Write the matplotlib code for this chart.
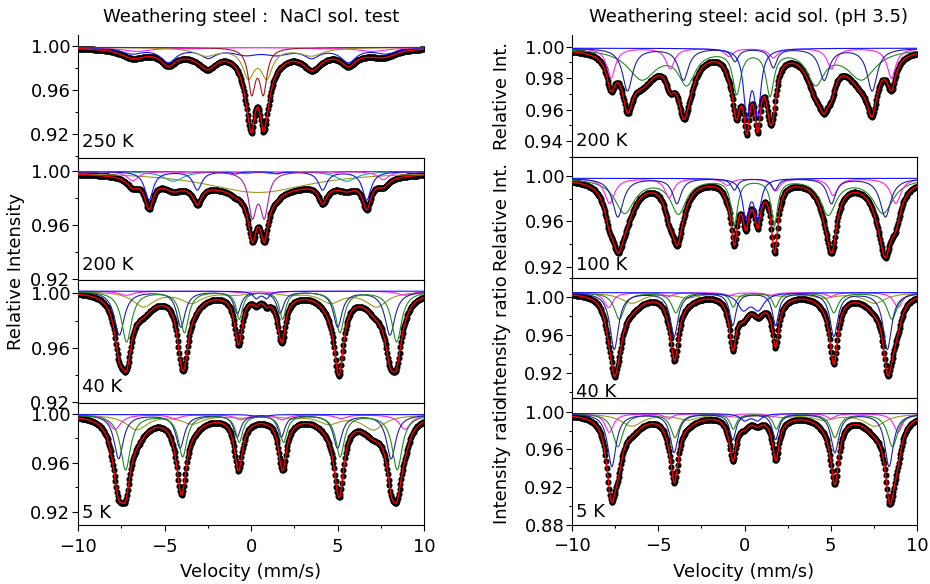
import numpy as np
import matplotlib
matplotlib.use("Agg")
import matplotlib.pyplot as plt
from matplotlib.ticker import MultipleLocator, FormatStrFormatter

plt.rcParams['font.family'] = ['DejaVu Sans']

# ---------------- data ----------------
VEL_MIN, VEL_MAX = -10.0, 10.0
VEL_STEP = 0.045
X_MAJOR = [-10, -5, 0, 5, 10]

LEFT_TITLE = "Weathering steel :  NaCl sol. test"
RIGHT_TITLE = "Weathering steel: acid sol. (pH 3.5)"
NACL_TEMPS = ["250 K", "200 K", "40 K", "5 K"]
ACID_TEMPS = ["200 K", "100 K", "40 K", "5 K"]
NACL_BASELINE = [0.9985, 0.9995, 1.0015, 0.9995]
ACID_BASELINE = [0.9990, 0.9980, 1.0050, 0.9980]

# sub-spectra: lists of (line position mm/s, depth, FWHM mm/s)
# ---- NaCl 250 K
N250_BLUE = [(-6.9, 0.005, 1.5), (-4.78, 0.0125, 1.1), (-2.47, 0.008, 1.1), (-0.3, 0.0055, 1.8),
             (1.5, 0.0055, 1.8), (3.51, 0.008, 1.1), (5.63, 0.0125, 1.1), (7.8, 0.005, 1.5)]
N250_MAGENTA = [(-6.6, 0.0035, 2.2), (-3.0, 0.0008, 2.0), (3.8, 0.0008, 2.0), (7.0, 0.0035, 2.2)]
N250_OLIVE = [(-2.6, 0.007, 1.6), (-0.15, 0.025, 0.8), (0.91, 0.025, 0.8), (3.5, 0.007, 1.6)]
N250_MAROON = [(0.04, 0.039, 0.5), (0.71, 0.039, 0.5)]
N250_TAN = [(-3.7, 0.0015, 2.0), (4.0, 0.0015, 2.0)]
# ---- NaCl 200 K
N200_BLUE = [(-5.90, 0.021, 0.6), (-3.10, 0.0135, 0.6), (-0.9, 0.0015, 0.5), (1.5, 0.0015, 0.5),
             (4.14, 0.0135, 0.6), (6.69, 0.021, 0.6)]
N200_MAGENTA = [(-6.84, 0.0068, 0.8), (-3.6, 0.0012, 0.8), (-0.3, 0.0015, 0.8), (1.2, 0.0015, 0.8),
                (4.6, 0.0012, 0.8), (7.65, 0.006, 0.8)]
N200_TEAL = [(-4.49, 0.0072, 1.4), (5.53, 0.0072, 1.4)]
N200_OLIVE = [(0.4, 0.0155, 7.5)]
N200_PURPLE = [(0.08, 0.031, 0.55), (0.77, 0.031, 0.55)]
# ---- NaCl 40 K
N40_NAVY = [(-7.61, 0.032, 0.7), (-4.05, 0.026, 0.6), (-0.79, 0.016, 0.5), (1.68, 0.016, 0.5),
            (5.01, 0.026, 0.6), (8.03, 0.032, 0.7)]
N40_GREEN = [(-7.19, 0.037, 0.7), (-3.85, 0.030, 0.6), (-0.67, 0.020, 0.45), (1.83, 0.020, 0.45),
             (5.14, 0.030, 0.6), (8.42, 0.037, 0.7)]
N40_OLIVE = [(-6.22, 0.011, 1.5), (-3.43, 0.008, 1.5), (-0.9, 0.002, 1.5), (2.2, 0.002, 1.5),
             (4.6, 0.008, 1.5), (7.26, 0.011, 1.5)]
N40_MAGENTA = [(-7.2, 0.003, 1.0), (-0.6, 0.001, 1.0), (1.3, 0.001, 1.0), (8.9, 0.003, 1.0)]
N40_BLUE = [(0.3, 0.005, 0.45), (0.9, 0.005, 0.45)]
# ---- NaCl 5 K
N5_NAVY = [(-7.65, 0.036, 0.65), (-4.1, 0.027, 0.6), (-0.8, 0.018, 0.5), (1.75, 0.018, 0.5),
           (5.0, 0.027, 0.6), (8.1, 0.036, 0.65)]
N5_GREEN = [(-7.25, 0.045, 0.7), (-3.95, 0.034, 0.6), (-0.68, 0.022, 0.5), (1.88, 0.022, 0.5),
            (5.15, 0.034, 0.6), (8.45, 0.045, 0.7)]
N5_OLIVE = [(-6.61, 0.012, 1.5), (-3.4, 0.007, 1.5), (-0.5, 0.002, 1.5), (2.3, 0.002, 1.5),
            (4.5, 0.007, 1.5), (7.07, 0.012, 1.5)]
N5_MAGENTA = [(-7.86, 0.012, 0.8), (-4.4, 0.003, 0.8), (-0.6, 0.004, 0.8), (1.8, 0.004, 0.8),
              (5.2, 0.003, 0.8), (8.9, 0.012, 0.8)]
N5_BLUE = [(0.2, 0.001, 0.6), (0.9, 0.001, 0.6)]
# ---- acid 200 K
A200_MAGENTA = [(-7.74, 0.019, 0.6), (-4.31, 0.013, 0.6), (-0.9, 0.005, 0.6), (1.67, 0.006, 0.6),
                (5.04, 0.013, 0.6), (8.52, 0.019, 0.6)]
A200_NAVY = [(-6.78, 0.027, 0.7), (-3.54, 0.020, 0.7), (-0.55, 0.008, 0.5), (1.67, 0.012, 0.5),
             (4.62, 0.020, 0.7), (7.40, 0.027, 0.7)]
A200_GREEN = [(-5.95, 0.019, 2.0), (-3.35, 0.021, 1.2), (-0.45, 0.027, 0.55), (1.48, 0.028, 0.55),
              (4.12, 0.021, 1.2), (6.78, 0.019, 2.0)]
A200_BLUE = [(0.13, 0.040, 0.45), (0.76, 0.040, 0.45)]
# ---- acid 100 K
A100_NAVY = [(-7.34, 0.034, 0.75), (-3.92, 0.022, 0.6), (-0.59, 0.010, 0.45), (1.76, 0.010, 0.45),
             (5.04, 0.022, 0.6), (8.17, 0.034, 0.75)]
A100_GREEN = [(-6.95, 0.030, 1.4), (-3.83, 0.030, 1.1), (-0.59, 0.040, 0.45), (1.73, 0.040, 0.45),
              (4.85, 0.031, 1.1), (8.03, 0.030, 1.4)]
A100_MAGENTA = [(-7.82, 0.022, 0.7), (-4.37, 0.017, 0.6), (-1.0, 0.006, 0.6), (1.80, 0.011, 0.6),
                (5.15, 0.015, 0.6), (8.77, 0.022, 0.7)]
A100_BLUE = [(0.08, 0.034, 0.45), (0.76, 0.034, 0.45)]
# ---- acid 40 K
A40_NAVY = [(-7.55, 0.060, 0.6), (-4.08, 0.046, 0.55), (-0.68, 0.034, 0.45), (1.80, 0.034, 0.45),
            (5.18, 0.046, 0.55), (8.28, 0.060, 0.6)]
A40_GREEN = [(-7.26, 0.028, 0.7), (-3.98, 0.021, 0.6), (-0.65, 0.015, 0.45), (1.80, 0.015, 0.45),
             (5.18, 0.021, 0.6), (8.55, 0.028, 0.7)]
A40_MAGENTA = [(-7.88, 0.016, 0.6), (-4.4, 0.004, 0.6), (-0.9, 0.003, 0.6), (1.5, 0.003, 0.6),
               (5.0, 0.004, 0.6), (8.9, 0.016, 0.6)]
A40_OLIVE = [(-6.53, 0.011, 1.5), (-3.3, 0.005, 1.5), (-0.3, 0.003, 1.5), (2.2, 0.003, 1.5),
             (4.6, 0.005, 1.5), (7.55, 0.011, 1.5)]
A40_BLUE = [(-0.07, 0.0167, 0.8), (0.8, 0.0167, 0.8)]
# ---- acid 5 K
A5_NAVY = [(-7.69, 0.056, 0.6), (-4.08, 0.041, 0.55), (-0.68, 0.027, 0.45), (1.80, 0.027, 0.45),
           (5.24, 0.041, 0.55), (8.38, 0.056, 0.6)]
A5_GREEN = [(-7.34, 0.035, 0.7), (-4.03, 0.025, 0.6), (-0.65, 0.016, 0.45), (1.85, 0.016, 0.45),
            (5.24, 0.025, 0.6), (8.58, 0.035, 0.7)]
A5_MAGENTA = [(-7.84, 0.020, 0.6), (-4.4, 0.005, 0.6), (-0.9, 0.003, 0.6), (1.6, 0.003, 0.6),
              (5.0, 0.005, 0.6), (8.9, 0.020, 0.6)]
A5_OLIVE = [(-6.53, 0.013, 1.5), (-3.3, 0.006, 1.5), (-0.3, 0.003, 1.5), (2.2, 0.003, 1.5),
            (4.6, 0.006, 1.5), (7.55, 0.013, 1.5)]
A5_BLUE = [(0.0, 0.007, 0.6), (0.75, 0.007, 0.6)]

# y ranges and tick steps of each panel
NACL_YLIM = [(0.8986, 1.0097), (0.9195, 1.0094), (0.9195, 1.0097), (0.9091, 1.0090)]
ACID_YLIM = [(0.9298, 1.0074), (0.9105, 1.0168), (0.8932, 1.0210), (0.8800, 1.0146)]
NACL_YSTEP = [0.04, 0.04, 0.04, 0.04]
ACID_YSTEP = [0.02, 0.04, 0.04, 0.04]
ACID_YLABELS = ["Relative Int.", "Relative Int.", "Intensity ratio", "Intensity ratio"]

COLORS = {'blue': '#1010ff', 'navy': '#20209a', 'green': '#1f8a1f', 'olive': '#9a9a20',
          'magenta': '#ff20ff', 'purple': '#a020a0', 'maroon': '#a01818', 'teal': '#20a0a0',
          'tan': '#c8b48c', 'fit': '#ff0000'}

NACL_COMPONENTS = [
    [('tan', N250_TAN), ('magenta', N250_MAGENTA), ('blue', N250_BLUE), ('olive', N250_OLIVE), ('maroon', N250_MAROON)],
    [('olive', N200_OLIVE), ('teal', N200_TEAL), ('magenta', N200_MAGENTA), ('blue', N200_BLUE), ('purple', N200_PURPLE)],
    [('olive', N40_OLIVE), ('magenta', N40_MAGENTA), ('navy', N40_NAVY), ('green', N40_GREEN), ('blue', N40_BLUE)],
    [('olive', N5_OLIVE), ('magenta', N5_MAGENTA), ('navy', N5_NAVY), ('green', N5_GREEN), ('blue', N5_BLUE)],
]
ACID_COMPONENTS = [
    [('green', A200_GREEN), ('magenta', A200_MAGENTA), ('navy', A200_NAVY), ('blue', A200_BLUE)],
    [('green', A100_GREEN), ('magenta', A100_MAGENTA), ('navy', A100_NAVY), ('blue', A100_BLUE)],
    [('olive', A40_OLIVE), ('magenta', A40_MAGENTA), ('green', A40_GREEN), ('navy', A40_NAVY), ('blue', A40_BLUE)],
    [('olive', A5_OLIVE), ('magenta', A5_MAGENTA), ('green', A5_GREEN), ('navy', A5_NAVY), ('blue', A5_BLUE)],
]

# ---------------- figure ----------------
W, H = 930, 584
fig = plt.figure(figsize=(W / 100, H / 100), dpi=100)

LEFT_X = (78, 424)
RIGHT_X = (572, 917)
LEFT_EDGES = [35, 158, 280, 403, 525]
RIGHT_EDGES = [35, 157, 277.5, 398, 524.5]
# temperature label centres (pixels, from top)
LEFT_TEMP_Y = [142, 265, 387, 513]
RIGHT_TEMP_Y = [141, 265, 392, 512]

v = np.arange(VEL_MIN, VEL_MAX + 1e-9, VEL_STEP)
v_fine = np.linspace(VEL_MIN, VEL_MAX, 2001)


def absorption(x, lines):
    out = np.zeros_like(x)
    for pos, depth, fwhm in lines:
        out += depth / (1.0 + (2.0 * (x - pos) / fwhm) ** 2)
    return out


def make_panel(xr, y0, y1, comps, base, ylim, ystep, temp, temp_y, is_top, is_bottom):
    ax = fig.add_axes([xr[0] / W, 1 - y1 / H, (xr[1] - xr[0]) / W, (y1 - y0) / H])
    all_lines = [ln for _, lines in comps for ln in lines]
    # measured points
    ax.plot(v, base - absorption(v, all_lines), 'o', color='black', ms=4.4, mew=0, zorder=2)
    for cname, lines in comps:
        ax.plot(v_fine, base - absorption(v_fine, lines), color=COLORS[cname], lw=0.8, zorder=3)
    ax.plot(v_fine, base - absorption(v_fine, all_lines), color=COLORS['fit'], lw=1.0, zorder=4)
    ax.set_xlim(VEL_MIN, VEL_MAX)
    ax.set_ylim(*ylim)
    ax.set_xticks(X_MAJOR)
    ax.xaxis.set_minor_locator(MultipleLocator(2.5))
    ax.yaxis.set_major_locator(MultipleLocator(ystep))
    ax.yaxis.set_minor_locator(MultipleLocator(ystep / 2))
    ax.yaxis.set_major_formatter(FormatStrFormatter('%.2f'))
    ax.tick_params(which='both', direction='out', top=False, right=False, width=0.8,
                   labelsize=13, pad=1.5)
    ax.tick_params(which='major', length=4)
    ax.tick_params(which='minor', length=2.5)
    ax.tick_params(axis='x', labelbottom=is_bottom, pad=5)
    if is_top:
        ax.spines['top'].set_visible(False)
        ax.spines['right'].set_visible(False)
    for sp in ax.spines.values():
        sp.set_linewidth(0.8)
    fig.text((xr[0] + 4) / W, 1 - temp_y / H, temp, fontsize=13, ha='left', va='center', zorder=5)
    return ax


for i in range(4):
    make_panel(LEFT_X, LEFT_EDGES[i], LEFT_EDGES[i + 1], NACL_COMPONENTS[i], NACL_BASELINE[i],
               NACL_YLIM[i], NACL_YSTEP[i], NACL_TEMPS[i], LEFT_TEMP_Y[i], i == 0, i == 3)
    make_panel(RIGHT_X, RIGHT_EDGES[i], RIGHT_EDGES[i + 1], ACID_COMPONENTS[i], ACID_BASELINE[i],
               ACID_YLIM[i], ACID_YSTEP[i], ACID_TEMPS[i], RIGHT_TEMP_Y[i], i == 0, i == 3)
    yc = (RIGHT_EDGES[i] + RIGHT_EDGES[i + 1]) / 2
    fig.text(502 / W, 1 - yc / H, ACID_YLABELS[i], rotation=90, fontsize=13, ha='center', va='center')

fig.text(16 / W, 1 - 272 / H, "Relative Intensity", rotation=90, fontsize=13, ha='center', va='center')
fig.text(251 / W, 1 - 17 / H, LEFT_TITLE, fontsize=13, ha='center', va='center')
fig.text(748 / W, 1 - 17 / H, RIGHT_TITLE, fontsize=13, ha='center', va='center')
fig.text(251 / W, 1 - 572 / H, "Velocity (mm/s)", fontsize=13, ha='center', va='center')
fig.text(744 / W, 1 - 572 / H, "Velocity (mm/s)", fontsize=13, ha='center', va='center')

fig.savefig("out.png", dpi=100)
